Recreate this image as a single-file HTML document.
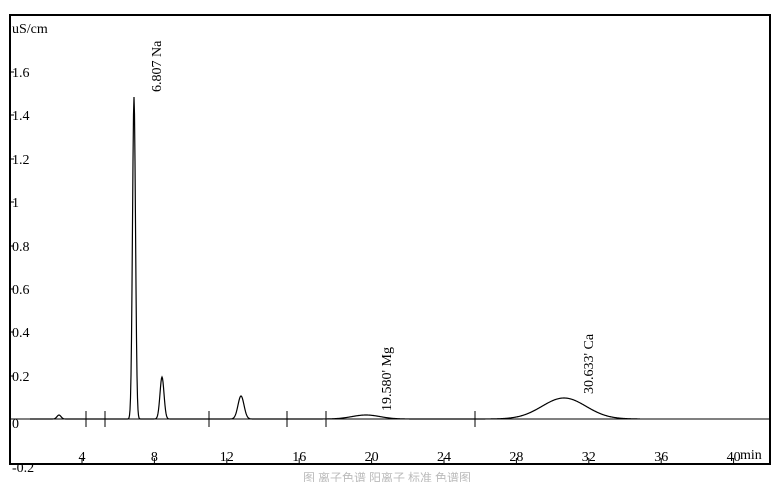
<!DOCTYPE html>
<html><head><meta charset="utf-8"><style>
html,body{margin:0;padding:0;background:#fff;}
svg{display:block;font-family:"Liberation Serif",serif;}
</style></head><body>
<svg id="s" width="775" height="482" viewBox="0 0 775 482">
<rect x="0" y="0" width="775" height="482" fill="#fff"/>
<rect x="10" y="15" width="760" height="449" fill="none" stroke="#000" stroke-width="2"/>
<line x1="10" y1="419" x2="770" y2="419" stroke="#000" stroke-width="1"/>
<g stroke="#000" stroke-width="1">
<line x1="86" y1="411" x2="86" y2="427"/><line x1="105" y1="411" x2="105" y2="427"/>
<line x1="209" y1="411" x2="209" y2="427"/><line x1="287" y1="411" x2="287" y2="427"/>
<line x1="326" y1="411" x2="326" y2="427"/><line x1="475" y1="411" x2="475" y2="427"/>
<line x1="10" y1="72" x2="14" y2="72"/><line x1="10" y1="115" x2="14" y2="115"/>
<line x1="10" y1="159" x2="14" y2="159"/><line x1="10" y1="202" x2="14" y2="202"/>
<line x1="10" y1="246" x2="14" y2="246"/><line x1="10" y1="289" x2="14" y2="289"/>
<line x1="10" y1="332" x2="14" y2="332"/><line x1="10" y1="376" x2="14" y2="376"/>
</g>
<g font-size="14" fill="#000">
<text x="12" y="33">uS/cm</text>
<text x="12" y="77">1.6</text><text x="12" y="120">1.4</text>
<text x="12" y="164">1.2</text><text x="12" y="207">1</text>
<text x="12" y="251">0.8</text><text x="12" y="294">0.6</text>
<text x="12" y="337">0.4</text><text x="12" y="381">0.2</text>
<text x="12" y="428">0</text>
<text x="12" y="472">-0.2</text>
</g>
<g font-size="14" fill="#000" text-anchor="middle" id="xl"></g>
<text x="740" y="459" font-size="14">min</text>
<g font-size="14" fill="#000">
<text transform="translate(161,92) rotate(-90)">6.807  Na</text>
<text transform="translate(391,411) rotate(-90)">19.580'  Mg</text>
<text transform="translate(593,394) rotate(-90)">30.633'  Ca</text>
</g>
<text x="387" y="482" font-size="12" fill="#bbb" text-anchor="middle">图 离子色谱 阳离子 标准 色谱图</text>
<path id="p" fill="none" stroke="#000" stroke-width="1.2"/>
</svg>
<script>
var xl=document.getElementById('xl');
var labs=[4,8,12,16,20,24,28,32,36,40];
var h='';
labs.forEach(function(v){var x=9.6+v*18.1;h+='<text x="'+x+'" y="461">'+v+'</text><line x1="'+x+'" y1="458" x2="'+x+'" y2="464" stroke="#000"/>';});
xl.innerHTML=h;
var peaks=[[59,4,2],[134,322,1.5],[162,42,2],[241,23,3],[366,4,14],[564,21,22]];
var d='';
for(var x=30;x<=640;x+=0.5){var y=0;peaks.forEach(function(p){var t=(x-p[0])/p[2];y+=p[1]*Math.exp(-0.5*t*t);});d+=(d?'L':'M')+x+' '+(419-y).toFixed(2);}
document.getElementById('p').setAttribute('d',d);
</script>
</body></html>
